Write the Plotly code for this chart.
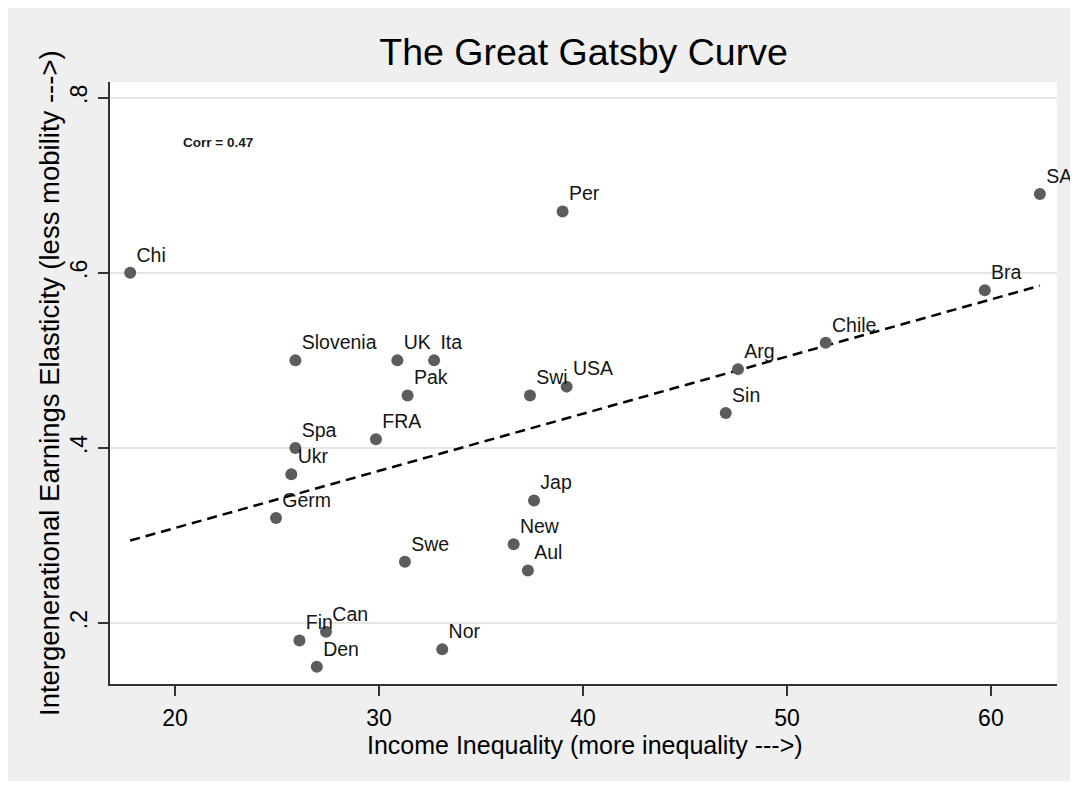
import numpy as np
import plotly.graph_objects as go

# ---- data ----
countries = ["Chi", "Germ", "Ukr", "Spa", "Slovenia", "Fin", "Den", "Can", "FRA", "UK",
             "Swe", "Pak", "Ita", "Nor", "New", "Aul", "Swi", "Jap", "Per", "USA",
             "Sin", "Arg", "Chile", "Bra", "SAF"]
inequality = [17.8, 24.95, 25.7, 25.9, 25.9, 26.1, 26.95, 27.4, 29.85, 30.9,
              31.27, 31.4, 32.7, 33.1, 36.6, 37.3, 37.4, 37.6, 39.0, 39.2,
              47.0, 47.6, 51.9, 59.7, 62.4]
elasticity = [0.60, 0.32, 0.37, 0.40, 0.50, 0.18, 0.15, 0.19, 0.41, 0.50,
              0.27, 0.46, 0.50, 0.17, 0.29, 0.26, 0.46, 0.34, 0.67, 0.47,
              0.44, 0.49, 0.52, 0.58, 0.69]
x_ticks = [20, 30, 40, 50, 60]
x_tick_labels = ["20", "30", "40", "50", "60"]
y_ticks = [0.2, 0.4, 0.6, 0.8]
y_tick_labels = [".2", ".4", ".6", ".8"]
corr_label = "Corr = 0.47"
title_text = "The Great Gatsby Curve"
x_title = "Income Inequality (more inequality --->)"
y_title = "Intergenerational Earnings Elasticity (less mobility --->)"

# ---- linear fit (OLS) ----
slope, intercept = np.polyfit(inequality, elasticity, 1)
fit_x = [min(inequality), max(inequality)]
fit_y = [intercept + slope * v for v in fit_x]

FONT = "Arial, Liberation Sans, sans-serif"
# page body has an 8px margin, so the figure is 8px smaller than the window
W, H = 1070, 777
L, R, T, B = 102, 21, 74, 101
pw, ph = W - L - R, H - T - B

def px_x(p):
    return (p - L) / pw

def px_y(p):
    return (H - B - p) / ph

fig = go.Figure()

fig.add_trace(go.Scatter(
    x=fit_x, y=fit_y, mode="lines",
    line=dict(color="black", width=2.5, dash="10px,6px"),
    hoverinfo="skip", showlegend=False))

fig.add_trace(go.Scatter(
    x=inequality, y=elasticity, mode="markers",
    marker=dict(color="#5c5c5c", size=12, line=dict(width=0)),
    showlegend=False, cliponaxis=False))

fig.add_trace(go.Scatter(
    x=inequality, y=elasticity, mode="markers+text",
    text=countries, textposition="top right",
    textfont=dict(family=FONT, size=19.5, color="#151515"),
    marker=dict(color="rgba(0,0,0,0)", size=8.5),
    showlegend=False, cliponaxis=False, hoverinfo="skip"))

fig.add_annotation(x=px_x(210), y=px_y(134), xref="paper", yref="paper",
                   text="<b>" + corr_label + "</b>",
                   showarrow=False, font=dict(family=FONT, size=13.5, color="#1a1a1a"),
                   xanchor="center", yanchor="middle")

fig.add_annotation(x=px_x(577), y=px_y(737), xref="paper", yref="paper", text=x_title,
                   showarrow=False, font=dict(family=FONT, size=25, color="black"),
                   xanchor="center", yanchor="middle")
fig.add_annotation(x=px_x(41), y=px_y(375), xref="paper", yref="paper", text=y_title,
                   textangle=-90, showarrow=False,
                   font=dict(family=FONT, size=27.5, color="black"),
                   xanchor="center", yanchor="middle")

shapes = [
    dict(type="rect", xref="paper", yref="paper", layer="below",
         x0=px_x(0), x1=px_x(1064), y0=px_y(773), y1=px_y(0),
         fillcolor="#efefef", line=dict(width=0)),
    dict(type="rect", xref="paper", yref="paper", layer="below",
         x0=0, x1=1, y0=0, y1=1, fillcolor="white", line=dict(width=0)),
]

fig.update_layout(
    width=W, height=H,
    margin=dict(l=L, r=R, t=T, b=B, pad=0),
    paper_bgcolor="white", plot_bgcolor="white",
    font=dict(family=FONT, color="black"),
    shapes=shapes,
    title=dict(text=title_text, x=0.5, xref="paper", xanchor="center",
               y=1 - 44 / H, yanchor="middle", yref="container",
               font=dict(family=FONT, size=37.5, color="black")),
    xaxis=dict(range=[16.81, 63.24], tickvals=x_ticks, ticktext=x_tick_labels,
               showgrid=False, zeroline=False, showline=True, linecolor="#333333", linewidth=1.5,
               ticks="outside", ticklen=10, tickwidth=1.5, tickcolor="#333333",
               tickfont=dict(family=FONT, size=23, color="black"), ticklabelstandoff=3,
               automargin=False),
    yaxis=dict(range=[0.1303, 0.818], tickvals=y_ticks, ticktext=y_tick_labels,
               showgrid=True, gridcolor="#e6e6e6", gridwidth=2, zeroline=False,
               showline=True, linecolor="#333333", linewidth=1.5,
               ticks="outside", ticklen=10, tickwidth=1.5, tickcolor="#333333",
               tickangle=-90, tickfont=dict(family=FONT, size=23, color="black"),
               ticklabelstandoff=2,
               automargin=False),
)

fig.write_html("out.html")
